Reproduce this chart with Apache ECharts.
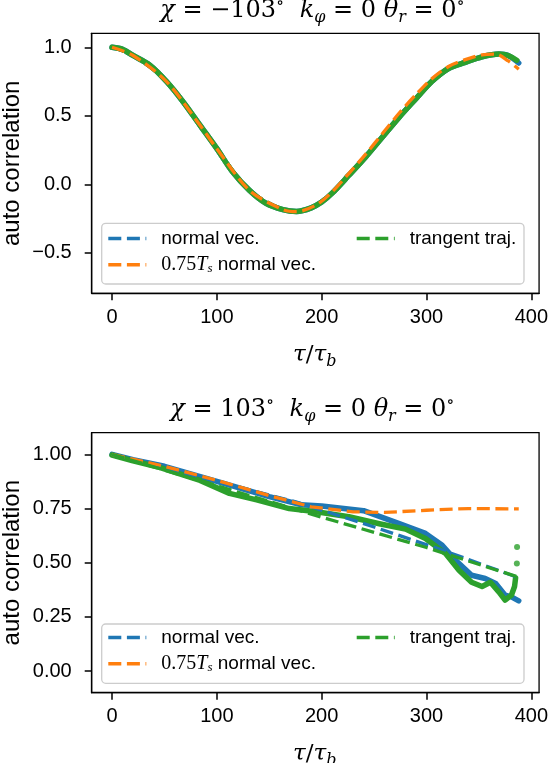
<!DOCTYPE html>
<html><head><meta charset="utf-8">
<script src="https://cdn.jsdelivr.net/npm/echarts@6/dist/echarts.min.js"></script>
<style>html,body{margin:0;padding:0;background:#fff}#c{width:551px;height:763px}</style>
</head><body><div id="c"></div><script>
// ---------- data ----------
const xTicks = [0, 100, 200, 300, 400];
const topYTicks = [-0.5, 0, 0.5, 1.0];
const botYTicks = [0, 0.25, 0.5, 0.75, 1.0];
const legendNames = ['normal vec.', '0.75Ts normal vec.', 'trangent traj.'];

// top panel (chi = -103)
const topBlueData = [[0,1.0],[10,0.985],[20,0.94],[36,0.87],[52,0.75],[68,0.60],[84,0.43],[100,0.26],[115,0.09],[131,-0.044],[147,-0.14],[163,-0.185],[176,-0.198],[190,-0.172],[200,-0.13],[210,-0.065],[226,0.066],[242,0.2],[258,0.345],[274,0.49],[290,0.625],[305,0.75],[321,0.845],[337,0.89],[353,0.93],[369,0.95],[378,0.94],[388,0.885]];
const topGreenData = [[0,1.0],[10,0.985],[20,0.94],[36,0.87],[52,0.75],[68,0.60],[84,0.43],[100,0.26],[115,0.09],[131,-0.044],[147,-0.14],[163,-0.185],[176,-0.198],[190,-0.172],[200,-0.13],[210,-0.065],[226,0.066],[242,0.2],[258,0.345],[274,0.49],[290,0.625],[305,0.75],[321,0.845],[337,0.89],[353,0.93],[369,0.95],[378,0.94],[386,0.905]];
const topBlueFit = [[0,1.0],[20,0.94],[52,0.75],[84,0.43],[100,0.26],[131,-0.044],[163,-0.185],[176,-0.198],[200,-0.13],[226,0.066],[258,0.345],[290,0.625],[321,0.845],[353,0.93],[369,0.95],[388,0.9]];
const topOrangeFit = [[0,1.0],[20,0.94],[52,0.75],[84,0.43],[100,0.26],[131,-0.044],[163,-0.185],[176,-0.2],[195,-0.15],[210,-0.055],[226,0.08],[242,0.22],[258,0.37],[274,0.52],[290,0.655],[305,0.77],[321,0.86],[337,0.91],[353,0.945],[366,0.95],[378,0.9],[388,0.84]];
const topGreenFit = [[0,1.0],[20,0.94],[52,0.75],[84,0.43],[100,0.26],[131,-0.044],[163,-0.185],[176,-0.198],[200,-0.13],[226,0.066],[258,0.345],[290,0.625],[321,0.845],[353,0.93],[369,0.95],[388,0.9]];

// bottom panel (chi = 103)
const botBlueData = [[0,1.0],[20,0.975],[50,0.945],[100,0.875],[150,0.805],[180,0.768],[200,0.762],[240,0.74],[274,0.68],[299,0.635],[315,0.58],[328,0.51],[343,0.442],[356,0.427],[366,0.404],[375,0.35],[381,0.342],[388,0.324]];
const botGreenData = [[0,0.997],[20,0.97],[43,0.943],[84,0.88],[112,0.82],[138,0.79],[169,0.75],[195,0.735],[226,0.712],[255,0.68],[280,0.655],[299,0.612],[318,0.543],[331,0.465],[343,0.41],[353,0.39],[361,0.41],[369,0.365],[375,0.327],[381,0.35],[384,0.39],[385,0.43]];
const botGreenDots = [[386.2,0.496],[386.4,0.573]];
const botBlueFit = [[0,1.0],[93,0.884],[176,0.78],[250,0.665],[320,0.55],[388,0.43]];
const botOrangeFit = [[0,1.0],[50,0.945],[100,0.88],[150,0.81],[190,0.758],[230,0.735],[260,0.732],[300,0.742],[340,0.75],[388,0.748]];
const botGreenFit = [[0,1.0],[100,0.855],[200,0.71],[300,0.57],[388,0.433]];

// ---------- styling ----------
const C = {blue:'#1f77b4', orange:'#ff7f0e', green:'#2ca02c'};
const SANS = '"Liberation Sans", Arial, sans-serif';
const SERIF = '"Liberation Serif", serif';
const DSERIF = '"DejaVu Serif", serif';
const dashIcon = 'path://M0,0h13v3.5h-13zM18.6,0h13v3.5h-13zM37.2,0h0.8v3.5h-0.8z';

function dataLine(name, color, data, ai, smooth) {
  return {type:'line', name:name, xAxisIndex:ai, yAxisIndex:ai, data:data, symbol:'none', smooth:smooth || false,
    lineStyle:{color:color, width:5.5, cap:'round', join:'round'}, itemStyle:{color:color},
    silent:true, animation:false, z:2};
}
function fitLine(name, color, data, ai, smooth) {
  return {type:'line', name:name, xAxisIndex:ai, yAxisIndex:ai, data:data, symbol:'none', smooth:smooth || false,
    lineStyle:{color:color, width:3.3, type:[13,5.6], cap:'butt'}, itemStyle:{color:color},
    silent:true, animation:false, z:2};
}

const legendRich = {
  n:{fontFamily:SANS, fontSize:19, lineHeight:20, color:'#000'},
  m:{fontFamily:SERIF, fontSize:20, lineHeight:20, color:'#000'},
  t:{fontFamily:SERIF, fontStyle:'italic', fontSize:20, lineHeight:20, color:'#000'},
  s:{fontFamily:SERIF, fontStyle:'italic', fontSize:13, lineHeight:12, verticalAlign:'bottom', color:'#000'}
};
function legendFmt(name) {
  if (name === legendNames[1]) return '{m|0.75}{t|T}{s|s}{n| normal vec.}';
  return '{n|' + name + '}';
}
function mkLegend(names, left, top) {
  return {data:names.map(n => ({name:n, icon:dashIcon})), orient:'vertical', left:left, top:top,
    itemGap:6.7, itemWidth:38, itemHeight:3.5, padding:0, selectedMode:false, z:5,
    textStyle:{padding:[0,0,0,10], rich:legendRich}, formatter:legendFmt};
}

const axisLineCfg = {show:true, onZero:false, lineStyle:{color:'#000', width:1.3}};
const tickCfg = {show:true, inside:false, length:7, lineStyle:{color:'#000', width:1.5}};
function xAxisCfg(gi) {
  return {gridIndex:gi, type:'value', min:-19.4, max:407.4,
    axisLine:axisLineCfg, splitLine:{show:false},
    axisTick:Object.assign({customValues:xTicks}, tickCfg),
    axisLabel:{customValues:xTicks, fontSize:20, fontFamily:SANS, color:'#000', margin:14}};
}
function yAxisCfg(gi, min, max, ticks, digits) {
  return {gridIndex:gi, type:'value', min:min, max:max,
    axisLine:axisLineCfg, splitLine:{show:false},
    axisTick:Object.assign({customValues:ticks}, tickCfg),
    axisLabel:{customValues:ticks, fontSize:20, fontFamily:SANS, color:'#000', margin:20,
      formatter:v => Number(v).toFixed(digits).replace('-', '\u2212')}};
}

const titleRich = {
  i:{fontFamily:DSERIF, fontStyle:'italic', fontSize:24, lineHeight:30, fill:'#000'},
  n:{fontFamily:DSERIF, fontSize:24, lineHeight:30, fill:'#000'},
  s:{fontFamily:DSERIF, fontStyle:'italic', fontSize:16, lineHeight:13, verticalAlign:'bottom', fill:'#000'},
  u:{fontFamily:DSERIF, fontSize:17, lineHeight:17, verticalAlign:'top', fill:'#000'}
};
const xlabRich = {
  i:{fontFamily:DSERIF, fontStyle:'italic', fontSize:23, lineHeight:30, fill:'#000'},
  n:{fontFamily:DSERIF, fontSize:23, lineHeight:30, fill:'#000'},
  s:{fontFamily:DSERIF, fontStyle:'italic', fontSize:16, lineHeight:13, verticalAlign:'bottom', fill:'#000'}
};
function txt(x, y, text, rich) {
  return {type:'text', x:x, y:y, z:10,
    style:{text:text, rich:rich, align:'center', verticalAlign:'middle', fill:'#000'}};
}
function ylab(x, y) {
  return {type:'text', x:x, y:y, z:10, rotation:Math.PI/2,
    style:{text:'auto correlation', font:'24px "Liberation Sans", Arial, sans-serif', align:'center', verticalAlign:'middle', fill:'#000'}};
}
function legendBox(y, h) {
  return {type:'rect', shape:{x:101.7, y:y, width:422.3, height:h, r:4}, z:4,
    style:{fill:'rgba(255,255,255,0.8)', stroke:'#cccccc', lineWidth:1.3}};
}

const chart = echarts.init(document.getElementById('c'), null, {renderer:'canvas'});
chart.setOption({
  animation:false,
  backgroundColor:'#fff',
  grid:[
    {left:91.7, top:33.3, width:448.3, height:260, show:true, borderColor:'#000', borderWidth:1.3, backgroundColor:'transparent'},
    {left:91.7, top:432.7, width:448.3, height:260, show:true, borderColor:'#000', borderWidth:1.3, backgroundColor:'transparent'}
  ],
  xAxis:[xAxisCfg(0), xAxisCfg(1)],
  yAxis:[yAxisCfg(0, -0.796, 1.102, topYTicks, 1), yAxisCfg(1, -0.1, 1.1, botYTicks, 2)],
  legend:[
    mkLegend([legendNames[0], legendNames[1]], 108.3, 229),
    mkLegend([legendNames[2]], 356.7, 229),
    mkLegend([legendNames[0], legendNames[1]], 108.3, 628),
    mkLegend([legendNames[2]], 356.7, 628)
  ],
  series:[
    dataLine('normal vec. data', C.blue, topBlueData, 0, 0.3),
    fitLine(legendNames[0], C.blue, topBlueFit, 0, 0.3),
    fitLine(legendNames[2], C.green, topGreenFit, 0, 0.3),
    dataLine('trangent traj. data', C.green, topGreenData, 0, 0.3),
    fitLine(legendNames[1], C.orange, topOrangeFit, 0, 0.3),
    dataLine('normal vec. data', C.blue, botBlueData, 1),
    dataLine('trangent traj. data', C.green, botGreenData, 1),
    {type:'scatter', name:'trangent traj. data', xAxisIndex:1, yAxisIndex:1, data:botGreenDots,
      symbolSize:6, itemStyle:{color:C.green}, silent:true, z:2},
    fitLine(legendNames[0], C.blue, botBlueFit, 1),
    fitLine(legendNames[1], C.orange, botOrangeFit, 1),
    fitLine(legendNames[2], C.green, botGreenFit, 1)
  ],
  graphic:[
    legendBox(223.3, 60.7),
    legendBox(624, 59.3),
    txt(312.5, 10.5, '{i|χ}{n| = −103}{u|∘}{n|  }{i|k}{s|φ}{n| = 0 }{i|θ}{s|r}{n| = 0}{u|∘}', titleRich),
    txt(312.5, 409.5, '{i|χ}{n| = 103}{u|∘}{n|  }{i|k}{s|φ}{n| = 0 }{i|θ}{s|r}{n| = 0}{u|∘}', titleRich),
    txt(314.7, 355, '{i|τ}{n|/}{i|τ}{s|b}', xlabRich),
    txt(314.7, 754, '{i|τ}{n|/}{i|τ}{s|b}', xlabRich),
    ylab(12, 163.3),
    ylab(12, 562.7)
  ]
});
</script></body></html>
